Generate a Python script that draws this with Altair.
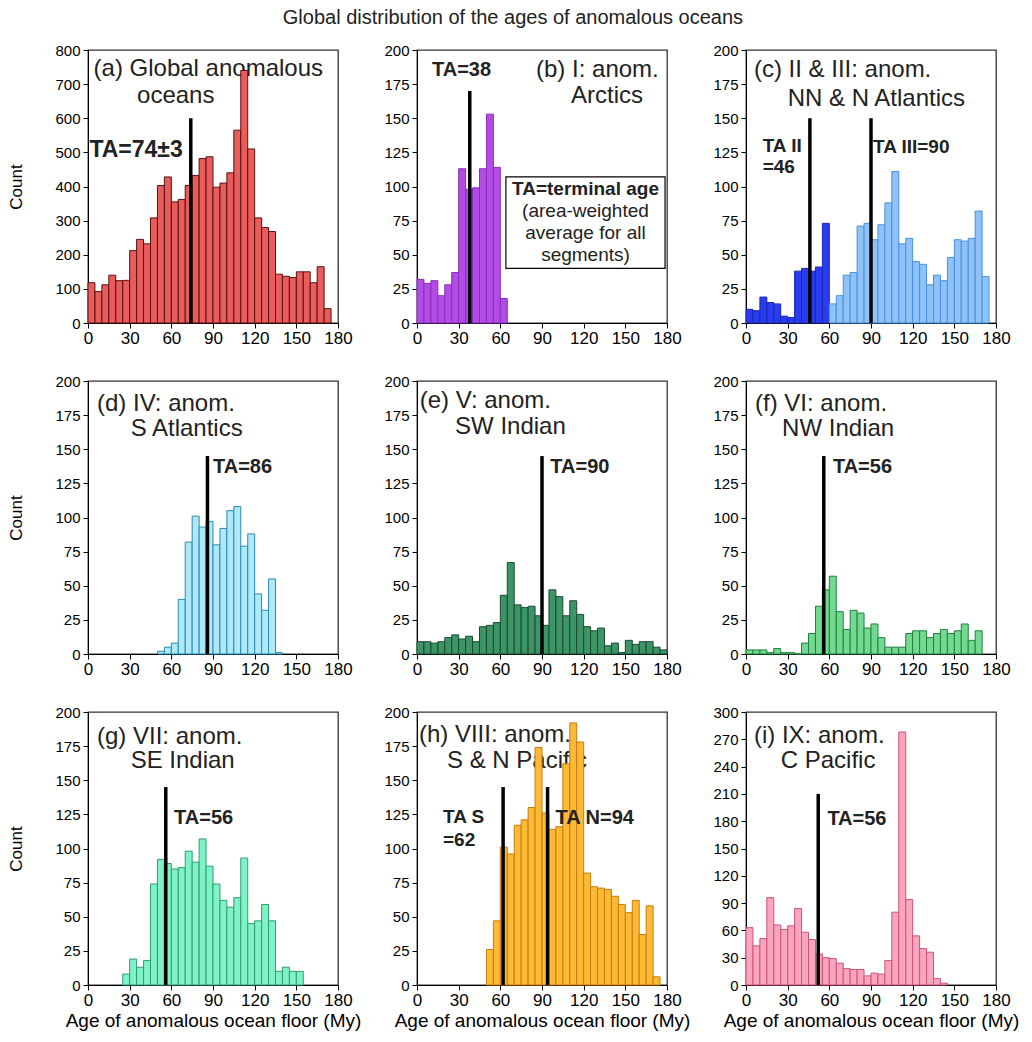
import altair as alt
import pandas as pd

FONT = "Liberation Sans, Arial, sans-serif"

# ---------------- data (5 My bins) ----------------
A_START = 0
A_COUNTS = [118, 92, 112, 140, 124, 125, 212, 245, 232, 308, 403, 428, 355, 362, 403,
            432, 482, 487, 398, 410, 440, 565, 740, 510, 308, 280, 268, 143, 137, 133,
            150, 150, 118, 165, 42]
B_START = 0
B_COUNTS = [32, 29, 31, 20, 28, 37, 113, 98, 99, 113, 153, 114, 18]
C_DARK_START = 0
C_DARK_COUNTS = [10, 9, 19, 15, 14, 5, 4, 38, 40, 38, 41, 73]
C_LIGHT_START = 60
C_LIGHT_COUNTS = [14, 20, 35, 37, 71, 73, 61, 72, 88, 111, 58, 62, 45, 43, 28, 35, 31,
                  48, 61, 60, 62, 82, 34]
D_START = 50
D_COUNTS = [2, 5, 8, 40, 82, 101, 93, 97, 80, 92, 105, 108, 79, 88, 44, 32, 55, 1]
E_START = 0
E_COUNTS = [9, 9, 8, 9, 12, 14, 11, 13, 9, 20, 21, 23, 43, 67, 36, 34, 35, 28, 21, 47,
            42, 28, 39, 29, 20, 17, 19, 6, 8, 1, 10, 7, 9, 9, 5, 3]
F_START = 0
F_COUNTS = [3, 3, 3, 1, 4, 1, 1, 0, 8, 15, 35, 47, 57, 31, 18, 32, 30, 19, 22, 12, 5,
            5, 5, 15, 17, 17, 12, 15, 18, 15, 17, 22, 10, 17]
G_START = 25
G_COUNTS = [8, 19, 13, 18, 74, 92, 89, 85, 86, 98, 90, 107, 87, 74, 62, 57, 64, 93, 45,
            47, 59, 47, 10, 13, 10, 10]
H_START = 50
H_COUNTS = [26, 47, 101, 96, 117, 121, 130, 174, 126, 114, 116, 162, 192, 178, 82, 72,
            71, 70, 65, 59, 53, 62, 37, 58, 6]
I_START = 0
I_COUNTS = [63, 43, 51, 96, 66, 61, 65, 84, 58, 50, 34, 30, 29, 24, 18, 17, 17, 10, 13,
            12, 27, 80, 278, 94, 54, 40, 36, 7, 2]

# terminal-age lines: (age, line top)
A_TA = [(74, 600)]
B_TA = [(38, 170)]
C_TA = [(46, 150), (90, 150)]
D_TA = [(86, 145)]
E_TA = [(90, 145)]
F_TA = [(56, 145)]
G_TA = [(56, 145)]
H_TA = [(62, 145), (94, 145)]
I_TA = [(52, 210)]

TITLE = "Global distribution of the ages of anomalous oceans"
X_TITLE = "Age of anomalous ocean floor (My)"
Y_TITLE = "Count"
X_TICKS = [0, 30, 60, 90, 120, 150, 180]


def bars_df(start, counts):
    return pd.DataFrame({
        "x0": [start + 5 * i for i in range(len(counts))],
        "x1": [start + 5 * i + 5 for i in range(len(counts))],
        "count": counts,
        "base": [0] * len(counts),
    })


def panel(spec, first_col, bottom_row):
    ymax, ystep = spec["ymax"], spec["ystep"]
    yticks = list(range(0, ymax + 1, ystep))
    xaxis_kw = dict(values=X_TICKS, grid=False, labelFontSize=17, labelFont=FONT,
                    tickSize=5, labelPadding=2, minExtent=22, maxExtent=22,
                    labelOverlap=False, labelFlush=False,
                    domainColor="black", tickColor="black", labelColor="black")
    if bottom_row:
        xaxis_kw.update(title=X_TITLE, titleFontSize=19, titleFont=FONT,
                        titleFontWeight="normal", titlePadding=4, titleColor="black")
    else:
        xaxis_kw.update(title=None)
    yaxis_kw = dict(values=yticks, grid=False, labelFontSize=15, labelFont=FONT,
                    tickSize=5, labelPadding=3, minExtent=35, maxExtent=35,
                    labelOverlap=False,
                    domainColor="black", tickColor="black", labelColor="black")
    if first_col:
        yaxis_kw.update(title=Y_TITLE, titleFontSize=17, titleFont=FONT,
                        titleFontWeight="normal", titlePadding=28, titleColor="black")
    else:
        yaxis_kw.update(title=None)
    X = alt.X("x0:Q", scale=alt.Scale(domain=[0, 180], nice=False),
              axis=alt.Axis(**xaxis_kw))
    Y = alt.Y("count:Q", scale=alt.Scale(domain=[0, ymax], nice=False),
              axis=alt.Axis(**yaxis_kw))

    layers = []
    # panel title texts (behind bars)
    tdf = pd.DataFrame({"x0": [t[1] for t in spec["titles"]],
                        "count": [t[2] for t in spec["titles"]],
                        "label": [t[0] for t in spec["titles"]]})
    layers.append(alt.Chart(tdf).mark_text(align="left", baseline="middle",
                                           fontSize=24, font=FONT, color="#222")
                  .encode(x=X, y=Y, text="label:N"))
    for start, counts, fill, stroke in spec["bars"]:
        layers.append(alt.Chart(bars_df(start, counts))
                      .mark_bar(fill=fill, stroke=stroke, strokeWidth=1, opacity=1)
                      .encode(x=X, x2="x1:Q", y=Y, y2="base:Q"))
    rdf = pd.DataFrame({"x0": [r[0] for r in spec["ta"]],
                        "count": [0 for r in spec["ta"]],
                        "top": [r[1] for r in spec["ta"]]})
    layers.append(alt.Chart(rdf).mark_rule(color="black", strokeWidth=3.5)
                  .encode(x=X, y=Y, y2="top:Q"))
    if "box" in spec:
        bx = spec["box"]
        bdf = pd.DataFrame({"x0": [bx[0]], "x1": [bx[1]], "count": [bx[2]], "top": [bx[3]]})
        layers.append(alt.Chart(bdf).mark_rect(fill="white", stroke="black", strokeWidth=1.2)
                      .encode(x=X, x2="x1:Q", y=Y, y2="top:Q"))
        for lbl, xx, yy, bold in spec["box_texts"]:
            layers.append(alt.Chart(pd.DataFrame({"x0": [xx], "count": [yy], "label": [lbl]}))
                          .mark_text(align="center", baseline="middle", fontSize=19,
                                     font=FONT, fontWeight="bold" if bold else "normal",
                                     color="#222")
                          .encode(x=X, y=Y, text="label:N"))
    for lbl, xx, yy, fs in spec["ta_texts"]:
        layers.append(alt.Chart(pd.DataFrame({"x0": [xx], "count": [yy], "label": [lbl]}))
                      .mark_text(align="left", baseline="middle", fontSize=fs, font=FONT,
                                 fontWeight="bold", color="#222")
                      .encode(x=X, y=Y, text="label:N"))
    return alt.layer(*layers).properties(width=250, height=273)


SPECS = [
    dict(ymax=800, ystep=100, bars=[(A_START, A_COUNTS, "#e95c5c", "#5a1010")], ta=A_TA,
         titles=[("(a) Global anomalous", 4.0, 745), ("oceans", 35.3, 666)],
         ta_texts=[("TA=74±3", 1.0, 506, 23)]),
    dict(ymax=200, ystep=25, bars=[(B_START, B_COUNTS, "#b24ce4", "#8a2cc0")], ta=B_TA,
         titles=[("(b) I: anom.", 85.7, 185), ("Arctics", 110.9, 166)],
         ta_texts=[("TA=38", 10.8, 185, 20)],
         box=(64, 178.6, 40, 107),
         box_texts=[("TA=terminal age", 121.3, 98.5, True), ("(area-weighted", 121.3, 82, False),
                    ("average for all", 121.3, 65.7, False), ("segments)", 121.3, 49.5, False)]),
    dict(ymax=200, ystep=25,
         bars=[(C_DARK_START, C_DARK_COUNTS, "#2a3cf0", "#1a28b0"),
               (C_LIGHT_START, C_LIGHT_COUNTS, "#8ec2f8", "#4a90e0")], ta=C_TA,
         titles=[("(c) II & III: anom.", 5.7, 185), ("NN & N Atlantics", 30, 164)],
         ta_texts=[("TA II", 12, 130, 19), ("=46", 12, 114, 19), ("TA III=90", 91.4, 129, 19)]),
    dict(ymax=200, ystep=25, bars=[(D_START, D_COUNTS, "#aee9fa", "#2a8ab2")], ta=D_TA,
         titles=[("(d) IV: anom.", 6.5, 183), ("S Atlantics", 30.7, 165)],
         ta_texts=[("TA=86", 90, 137, 20)]),
    dict(ymax=200, ystep=25, bars=[(E_START, E_COUNTS, "#3d9467", "#1a4a30")], ta=E_TA,
         titles=[("(e) V: anom.", 2, 185), ("SW Indian", 27.4, 166)],
         ta_texts=[("TA=90", 96, 137, 20)]),
    dict(ymax=200, ystep=25, bars=[(F_START, F_COUNTS, "#74d990", "#218040")], ta=F_TA,
         titles=[("(f) VI: anom.", 6.5, 183), ("NW Indian", 26, 165)],
         ta_texts=[("TA=56", 62.6, 137, 20)]),
    dict(ymax=200, ystep=25, bars=[(G_START, G_COUNTS, "#80f2c8", "#2f9e70")], ta=G_TA,
         titles=[("(g) VII: anom.", 6.5, 182), ("SE Indian", 30.7, 164)],
         ta_texts=[("TA=56", 62, 122, 20)]),
    dict(ymax=200, ystep=25, bars=[(H_START, H_COUNTS, "#fbb935", "#c97c0c")], ta=H_TA,
         titles=[("(h) VIII: anom.", 1.4, 183), ("S & N Pacific", 21.6, 164)],
         ta_texts=[("TA S", 18.7, 123, 19), ("=62", 18.7, 106, 19), ("TA N=94", 99.8, 122, 20)]),
    dict(ymax=300, ystep=30, bars=[(I_START, I_COUNTS, "#f8a6bc", "#d25078")], ta=I_TA,
         titles=[("(i) IX: anom.", 5.7, 274), ("C Pacific", 25, 246)],
         ta_texts=[("TA=56", 58.6, 182, 20)]),
]

panels = [panel(SPECS[i], i % 3 == 0, i >= 6) for i in range(9)]

chart = alt.concat(*panels, columns=3, bounds="flush",
                   spacing=alt.RowColnumber(row=58, column=79)).properties(
    title=alt.TitleParams(TITLE, fontSize=20, font=FONT, fontWeight="normal",
                          anchor="middle", offset=14, color="#222"),
    padding={"left": 6, "top": 8, "right": 0, "bottom": 0},
    background="white",
).configure_view(stroke="#333", strokeWidth=1.3)

chart.save("out.html", embed_options={"renderer": "svg", "actions": False})
